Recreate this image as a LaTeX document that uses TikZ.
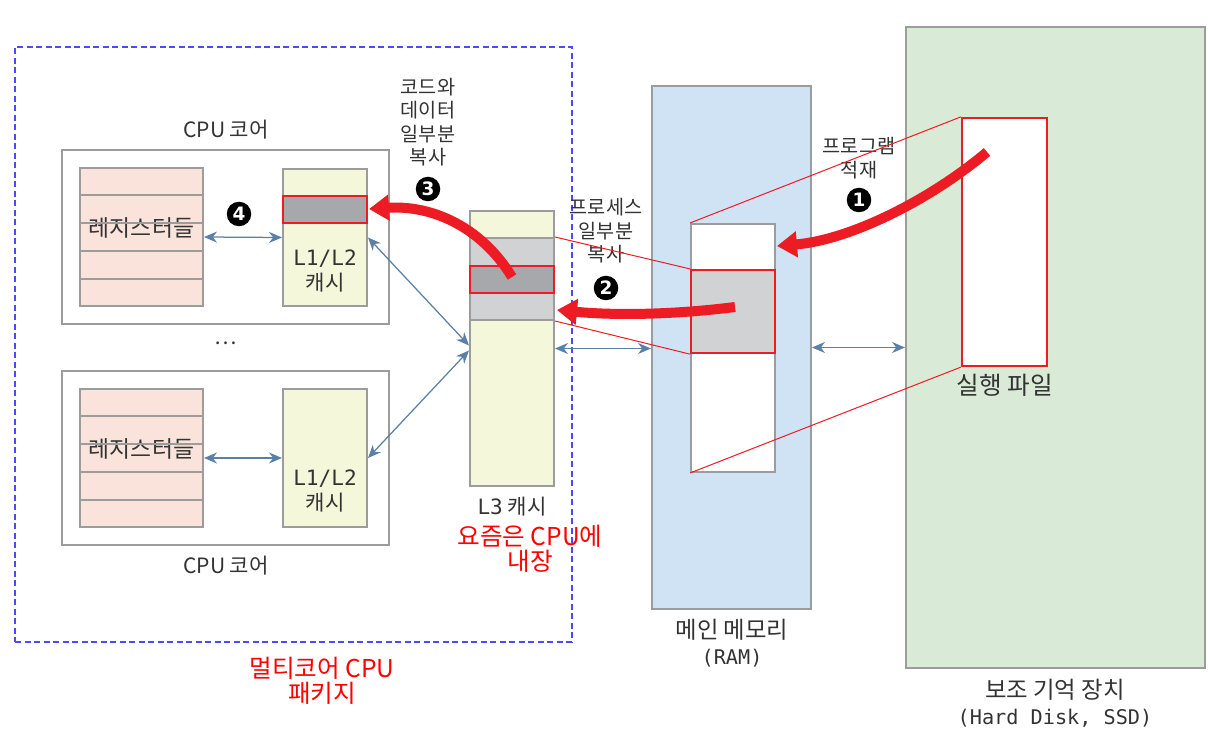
\documentclass[tikz,border=0pt]{standalone}
\usepackage{fontspec}
\setmainfont{Noto Sans CJK KR}
\newfontfamily\monofont{DejaVu Sans Mono}
\newfontfamily\numfont{DejaVu Sans}
\usetikzlibrary{calc,fit,arrows.meta}

\definecolor{boxgray}{HTML}{9C9C9C}
\definecolor{regfill}{HTML}{FAE3DA}
\definecolor{cachefill}{HTML}{F4F7D9}
\definecolor{blocklight}{HTML}{D1D2D4}
\definecolor{blockdark}{HTML}{A7A8AB}
\definecolor{ramfill}{HTML}{CFE3F5}
\definecolor{diskfill}{HTML}{D9EAD6}
\definecolor{copyred}{HTML}{ED1C24}
\definecolor{busblue}{HTML}{5B80A8}
\definecolor{pkgblue}{HTML}{4B4BF5}
\definecolor{textgray}{HTML}{333333}

\tikzstyle{plain box} = [draw=boxgray, line width=0.4mm, inner sep=0, fill=white]
\tikzstyle{reg box}   = [plain box, fill=regfill, font=\fontsize{13}{15}\selectfont]
\tikzstyle{cache box} = [plain box, fill=cachefill]
\tikzstyle{hot block} = [draw=copyred, line width=0.45mm, inner sep=0, fill=blockdark]
\tikzstyle{row line}  = [draw=boxgray, line width=0.4mm]
\tikzstyle{bus}       = [busblue, line width=0.25mm, {Stealth[length=2.6mm,width=2.2mm]}-{Stealth[length=2.6mm,width=2.2mm]}]
\tikzstyle{copy arrow}= [copyred, line width=2mm, -{Triangle[length=4mm,width=5mm]}]
\tikzstyle{trace}     = [copyred, line width=0.2mm]
\tikzstyle{num}       = [circle, fill=black, text=white, inner sep=0, minimum size=4.9mm, font=\numfont\bfseries\fontsize{10.5}{10.5}\selectfont]
\tikzstyle{note}      = [align=center, font=\fontsize{11.2}{13.4}\selectfont]
\tikzstyle{red note}  = [align=center, text=red, font=\fontsize{14}{14.2}\selectfont]
\tikzstyle{name text} = [align=center, font=\fontsize{13.3}{14.6}\selectfont]

\begin{document}
\begin{tikzpicture}[x=0.2mm, y=-0.2mm, text=textgray, font=\fontsize{12}{14}\selectfont]
    \useasboundingbox (0,0) rectangle (1208,736);

    % secondary storage and main memory
    \node (disk) [plain box, fill=diskfill, fit={(906,27) (1205,668)}] {};
    \node (ram) [plain box, fill=ramfill, fit={(652,86) (811,609)}] {};
    \node (ramarea) [plain box, fit={(691,224) (775,472)}] {};
    \node (ramhot) [hot block, fill=blocklight, fit={(691,270) (775,353)}] {};
    \node (exe) [draw=copyred, line width=0.45mm, fill=white, inner sep=0, fit={(962,118) (1047,366)}] {};

    % multicore package
    \node (pkg) [draw=pkgblue, line width=0.3mm, dash pattern=on 1.2mm off 0.7mm, inner sep=0, fit={(15,47) (572,642)}] {};

    % upper core
    \node (core1) [plain box, fit={(62,150) (389,324)}] {};
    \node (regs1) [reg box, fit={(80,168) (203,306)}] {레지스터들};
    \node (cache1) [cache box, fit={(283,169) (367,306)}] {};
    \node (hot1) [hot block, fit={(283,196) (367,223)}] {};

    % lower core
    \node (core2) [plain box, fit={(62,371) (389,545)}] {};
    \node (regs2) [reg box, fit={(80,389) (203,527)}] {레지스터들};
    \node (cache2) [cache box, fit={(283,389) (367,527)}] {};

    \foreach \r in {regs1,regs2}
        \foreach \i in {1,...,4}
            \draw[row line] ($(\r.north west)!\i/5!(\r.south west)$) -- ($(\r.north east)!\i/5!(\r.south east)$);

    % L3 cache
    \node (l3) [cache box, fit={(470,211) (554,486)}] {};
    \node (l3copy) [plain box, fill=blocklight, fit={(470,238) (554,320)}] {};
    \node (l3hot) [hot block, fit={(470,266) (554,293)}] {};

    % texts
    \node (core1name) at (226,130) {CPU 코어};
    \node (core2name) at (226,566) {CPU 코어};
    \node (cache1text) [align=center] at (325,271) {{\monofont L1/L2}\\캐시};
    \node (cache2text) [align=center] at (325,491) {{\monofont L1/L2}\\캐시};
    \node (dots) at (226,343) {\dots};
    \node (l3name) at (512,507) {{\monofont L3}\ 캐시};
    \node (l3red) [red note] at (530,549) {요즘은 CPU에\\내장};
    \node (pkgname) [red note] at (322,681) {멀티코어 CPU\\패키지};
    \node (ramname) [name text] at (732,643) {메인 메모리\\{\monofont\fontsize{11.5}{14.6}\selectfont (RAM)}};
    \node (diskname) [name text] at (1055,703) {보조 기억 장치\\{\monofont\fontsize{11.5}{14.6}\selectfont (Hard Disk, SSD)}};
    \node (exename) [font=\fontsize{14}{16}\selectfont] at (1005,385) {실행 파일};

    \node (loadnote) [note] at (859,158) {프로그램\\적재};
    \node (procnote) [note] at (606,231) {프로세스\\일부분\\복사};
    \node (codenote) [note] at (428,122) {코드와\\데이터\\일부분\\복사};

    \node (n1) [num] at (859,200) {1};
    \node (n2) [num] at (606,288) {2};
    \node (n3) [num] at (428,189) {3};
    \node (n4) [num] at (239,214) {4};

    % buses
    \draw[bus] (regs1.east) -- (cache1.west);
    \draw[bus] (regs2.east) -- (cache2.west);
    \draw[bus] (cache1.east) -- ($(l3.west)+(0,-3)$);
    \draw[bus] (cache2.east) -- ($(l3.west)+(0,2)$);
    \draw[bus] (l3.east) -- (l3.east -| ram.west);
    \draw[bus] (ram.east) -- (ram.east -| disk.west);

    % projection lines
    \draw[trace] (l3copy.north east) -- (ramhot.north west);
    \draw[trace] (l3copy.south east) -- (ramhot.south west);
    \draw[trace] (ramarea.north west) -- (exe.north west);
    \draw[trace] (ramarea.south west) -- (exe.south west);

    % copy arrows
    \coordinate (exeload) at (987,152);
    \coordinate (ramload) at (777,246);
    \coordinate (ramcopy) at (735,307);
    \coordinate (l3in) at (557,310);
    \coordinate (l3out) at (512,277);
    \coordinate (cachein) at (369,209);
    \draw[copy arrow] (exeload) .. controls (930,200) and (850,240) .. (ramload);
    \draw[copy arrow] (ramcopy) .. controls (680,314) and (620,316) .. (l3in);
    \draw[copy arrow] (l3out) .. controls (480,225) and (430,205) .. (cachein);

\end{tikzpicture}
\end{document}
